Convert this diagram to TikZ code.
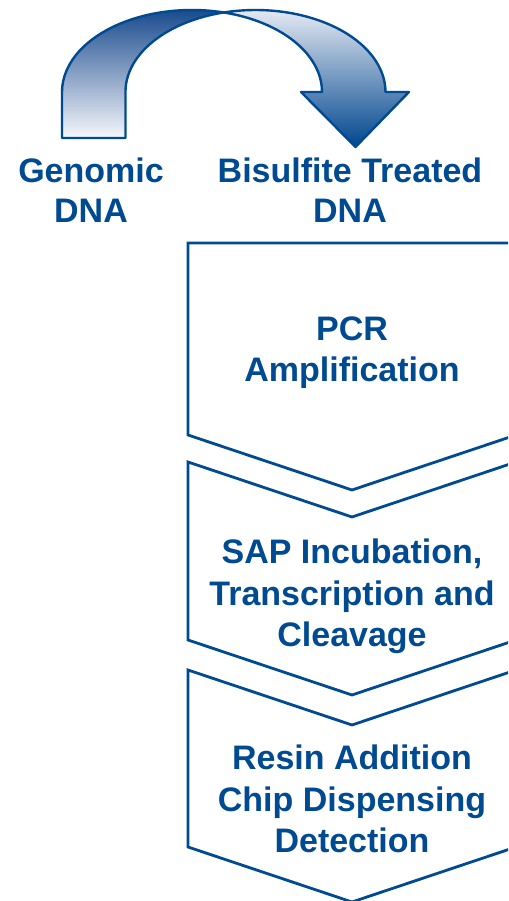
\documentclass[tikz,border=0pt]{standalone}
\usepackage{fontspec}
\setmainfont{Liberation Sans}
\definecolor{sqblue}{RGB}{0,74,145}
\definecolor{banddark}{RGB}{22,72,140}
\definecolor{bandlight}{RGB}{246,247,251}
\definecolor{arrowlight}{RGB}{236,238,246}
\definecolor{arrowdark}{RGB}{0,70,142}
\begin{document}
\begin{tikzpicture}[x=1pt,y=1pt,
  chev/.style={draw=sqblue, line width=2.8pt, line join=miter, fill=white},
  band/.style={draw=sqblue, line width=2.4pt, line join=round},
  lbl/.style={text=sqblue, font=\fontsize{34}{41.7}\selectfont\bfseries, align=center, inner sep=0pt, anchor=base},
  lbltop/.style={lbl, font=\fontsize{34}{40}\selectfont\bfseries}]
\useasboundingbox (0,0) rectangle (508,901);
\clip (0,0) rectangle (508,901);

% curved arrow: tail band
\shadedraw[band, top color=banddark, bottom color=bandlight]
  (62,763) -- (62,809)
  arc[start angle=180, end angle=75.87, x radius=130, y radius=82]
  arc[start angle=104.13, end angle=180, x radius=130, y radius=82]
  -- (125.5,763) -- cycle;
% curved arrow: head band
\shadedraw[band, top color=arrowlight, bottom color=arrowdark]
  (223.75,888.5)
  arc[start angle=104.13, end angle=0, x radius=130, y radius=82]
  -- (409,809) -- (355.5,754) -- (301,809) -- (322,809)
  arc[start angle=0, end angle=75.87, x radius=130, y radius=82]
  -- cycle;

% chevrons
\draw[chev] (188,658) -- (516,658) -- (516,466) -- (352,411) -- (188,466) -- cycle;
\draw[chev] (188,439) -- (352,384) -- (516,439) -- (516,261) -- (352,206) -- (188,261) -- cycle;
\draw[chev] (188,231) -- (352,176) -- (516,231) -- (516,54) -- (352,-1) -- (188,54) -- cycle;

% labels (base anchor = baseline of the last line)
\node[lbltop] (genomic) at (91,678) {Genomic\\DNA};
\node[lbltop] (bisulfite) at (350,678) {Bisulfite Treated\\DNA};
\node[lbl] (pcr) at (352,519) {PCR\\Amplification};
\node[lbl] (sap) at (352,254) {SAP Incubation,\\Transcription and\\Cleavage};
\node[lbl] (resin) at (352,48) {Resin Addition\\Chip Dispensing\\Detection};
\end{tikzpicture}
\end{document}
